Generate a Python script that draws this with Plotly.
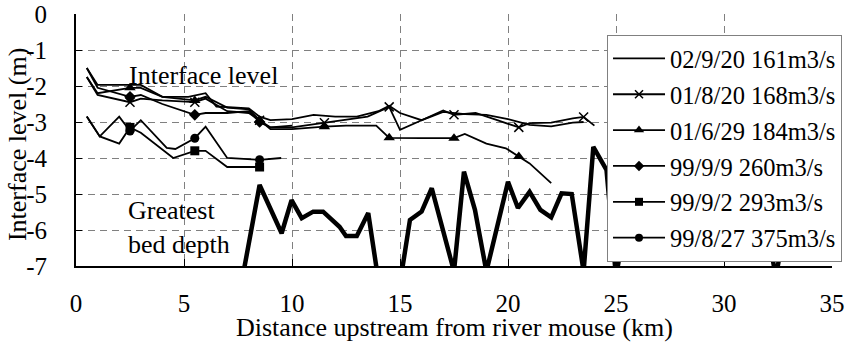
import plotly.graph_objects as go

# ---------------- data ----------------
x_tick_vals = [0, 5, 10, 15, 20, 25, 30, 35]
x_tick_text = ["0", "5", "10", "15", "20", "25", "30", "35"]
y_tick_vals = [0, -1, -2, -3, -4, -5, -6, -7]
y_tick_text = ["0", "-1", "-2", "-3", "-4", "-5", "-6", "-7"]

names = ["02/9/20 161m3/s", "01/8/20 168m3/s", "01/6/29 184m3/s",
         "99/9/9 260m3/s", "99/9/2 293m3/s", "99/8/27 375m3/s"]

s1_x = [0.5, 1.0, 2.5, 3.0, 4.0, 5.2, 6.0, 6.5, 8.0, 8.5, 9.0, 10.0, 11.0, 12.0, 13.0,
        14.0, 14.5, 15.0, 16.0, 17.0, 18.0, 19.0, 20.0, 21.0, 22.0, 23.0, 23.5]
s1_y = [-1.5, -1.97, -1.97, -1.97, -2.3, -2.3, -2.2, -2.57, -2.62, -2.85, -2.95, -2.92, -2.8,
        -2.85, -2.85, -2.7, -2.55, -2.75, -2.95, -2.72, -2.78, -2.8, -2.92, -3.08, -3.12, -3.02, -3.0]

s2_x = [0.5, 1.0, 2.5, 3.0, 4.0, 5.5, 6.0, 7.0, 8.0, 8.5, 9.0, 10.0, 11.5, 12.5, 13.5,
        14.5, 15.0, 16.0, 17.0, 17.5, 18.5, 19.5, 20.5, 21.0, 22.0, 23.0, 23.5, 24.0]
s2_y = [-1.75, -2.25, -2.45, -2.35, -2.4, -2.45, -2.35, -2.7, -2.75, -2.95, -3.15, -3.15, -3.02,
        -2.95, -2.85, -2.58, -3.22, -2.95, -2.68, -2.8, -2.75, -2.95, -3.15, -3.03, -3.02, -2.9, -2.86, -3.1]

s3_x = [0.5, 1.0, 2.5, 3.0, 4.0, 5.5, 6.0, 7.0, 8.0, 8.5, 9.0, 10.0, 11.5, 12.5, 13.9,
        14.5, 16.0, 17.5, 18.0, 19.0, 19.9, 20.5, 21.0, 22.0]
s3_y = [-1.75, -2.2, -2.05, -2.05, -2.3, -2.4, -2.3, -2.6, -2.65, -2.95, -3.2, -3.2, -3.13,
        -3.1, -3.1, -3.44, -3.45, -3.45, -3.33, -3.6, -3.73, -3.96, -4.15, -4.7]

s4_x = [0.5, 1.0, 2.5, 3.0, 4.0, 5.5, 6.0, 7.0, 8.0, 8.5, 9.0, 10.0]
s4_y = [-1.5, -2.05, -2.3, -2.25, -2.5, -2.8, -2.75, -2.75, -2.7, -3.0, -3.15, -3.1]

s5_x = [0.5, 1.1, 2.0, 2.5, 3.0, 4.5, 5.5, 6.0, 7.0, 8.5]
s5_y = [-2.85, -3.4, -3.6, -3.15, -3.3, -4.0, -3.8, -3.8, -4.25, -4.25]

s6_x = [0.5, 1.1, 2.0, 2.5, 3.0, 4.2, 4.6, 5.5, 6.0, 7.0, 8.5, 9.5]
s6_y = [-2.85, -3.4, -2.85, -3.25, -2.95, -3.72, -3.75, -3.45, -3.13, -4.0, -4.05, -4.0]

marker_x_s2 = [2.5, 5.5, 8.5, 11.5, 14.5, 17.5, 20.5, 23.5]
marker_x_s3 = [2.5, 5.5, 8.5, 11.5, 14.5, 17.5, 20.5]
marker_x_s4 = [2.5, 5.5, 8.5]
marker_x_s5 = [2.5, 5.5, 8.5]
marker_x_s6 = [2.5, 5.5, 8.5]

bed_x = [7.5, 8.05, 8.5, 9.52, 9.98, 10.45, 10.98, 11.44, 12.2, 12.5, 13.0, 13.53, 14.5,
         15.46, 16.0, 16.47, 17.0, 17.5, 17.96, 18.47, 19.0, 20.0, 20.46, 21.0, 21.5,
         22.0, 22.48, 22.95, 23.5, 23.95, 24.56, 25.0, 25.6, 27.0, 29.0, 31.0, 32.1,
         32.4, 32.7, 33.5]
bed_y = [-8.0, -6.19, -4.75, -6.09, -5.17, -5.67, -5.49, -5.49, -5.91, -6.17, -6.17, -5.53,
         -9.4, -5.72, -5.49, -4.84, -6.09, -7.15, -4.38, -5.44, -7.15, -4.66, -5.39, -4.94,
         -5.44, -5.65, -4.98, -5.0, -7.15, -3.69, -4.33, -7.3, -5.2, -4.8, -5.3, -5.0, -6.3,
         -7.3, -6.3, -5.0]

# ---------------- styling ----------------
FONT = "Liberation Serif"
fig = go.Figure()

series = [
    (names[0], s1_x, s1_y, [], None),
    (names[1], s2_x, s2_y, marker_x_s2, "x-thin"),
    (names[2], s3_x, s3_y, marker_x_s3, "triangle-up"),
    (names[3], s4_x, s4_y, marker_x_s4, "diamond"),
    (names[4], s5_x, s5_y, marker_x_s5, "square"),
    (names[5], s6_x, s6_y, marker_x_s6, "circle"),
]
msize = {"x-thin": 9, "triangle-up": 10, "diamond": 9, "square": 9, "circle": 9}

fig.add_trace(go.Scatter(x=bed_x, y=bed_y, mode="lines", showlegend=False,
                         line=dict(color="black", width=4.5), hoverinfo="skip"))

for name, xs, ys, mx, sym in series:
    fig.add_trace(go.Scatter(x=xs, y=ys, mode="lines", showlegend=False,
                             line=dict(color="black", width=1.8)))
    if sym:
        lookup = dict(zip(xs, ys))
        my = [lookup[v] for v in mx]
        fig.add_trace(go.Scatter(x=mx, y=my, mode="markers", showlegend=False,
                                 marker=dict(symbol=sym, size=msize[sym], color="black",
                                             line=dict(color="black", width=1.5 if sym == "x-thin" else 0))))

for name, xs, ys, mx, sym in series:
    if sym:
        fig.add_trace(go.Scatter(x=[None], y=[None], mode="lines+markers", name=name,
                                 legendgroup=name,
                                 line=dict(color="black", width=1.8),
                                 marker=dict(symbol=sym, size=msize[sym] - 1, color="black",
                                             line=dict(color="black", width=1.5 if sym == "x-thin" else 0))))
    else:
        fig.add_trace(go.Scatter(x=[None], y=[None], mode="lines", name=name,
                                 legendgroup=name,
                                 line=dict(color="black", width=1.8)))

grid = dict(showgrid=True, gridcolor="#808080", gridwidth=1, griddash="7px,5px")

fig.update_layout(
    width=847, height=344,
    margin=dict(l=76, r=15, t=14, b=78, autoexpand=False),
    paper_bgcolor="white", plot_bgcolor="white",
    font=dict(family=FONT, size=25, color="black"),
    showlegend=True,
    legend=dict(x=0.7024, y=0.9167, xanchor="left", yanchor="top",
                bgcolor="white", bordercolor="#808080", borderwidth=1,
                font=dict(family=FONT, size=24.5, color="black"),
                itemwidth=52, traceorder="grouped", tracegroupgap=1),
    xaxis=dict(range=[0, 35], tickvals=x_tick_vals, ticktext=x_tick_text,
               ticks="inside", ticklen=7, tickwidth=1, tickcolor="black",
               showline=True, linecolor="black", linewidth=2, mirror=False,
               zeroline=False, ticklabelstandoff=14, ticklabeloverflow="allow",
               tickfont=dict(family=FONT, size=25),
               **grid),
    yaxis=dict(range=[-7, 0], tickvals=y_tick_vals, ticktext=y_tick_text,
               ticks="inside", ticklen=6, tickwidth=1, tickcolor="black",
               showline=True, linecolor="black", linewidth=2, mirror=False,
               zeroline=False, ticklabelstandoff=22, ticklabeloverflow="allow",
               tickfont=dict(family=FONT, size=25),
               **grid),
    annotations=[
        dict(x=0.5, y=-0.245, xref="paper", yref="paper",
             text="Distance upstream from river mouse (km)", showarrow=False,
             font=dict(family=FONT, size=26, color="black"), xanchor="center", yanchor="middle"),
        dict(x=-0.078, y=0.48, xref="paper", yref="paper", textangle=-90,
             text="Interface level (m)", showarrow=False,
             font=dict(family=FONT, size=26, color="black"), xanchor="center", yanchor="middle"),
        dict(x=5.9, y=-1.7, xref="x", yref="y", text="Interface level", showarrow=False,
             font=dict(family=FONT, size=26, color="black"), xanchor="center", yanchor="middle"),
        dict(x=2.3, y=-5.94, xref="x", yref="y", text="Greatest<br>bed depth", showarrow=False,
             align="left", font=dict(family=FONT, size=26, color="black"),
             xanchor="left", yanchor="middle"),
    ],
)

fig.write_html("out.html", config={"displayModeBar": False},
               post_script="document.body.style.margin='0';document.body.style.overflow='hidden';")
